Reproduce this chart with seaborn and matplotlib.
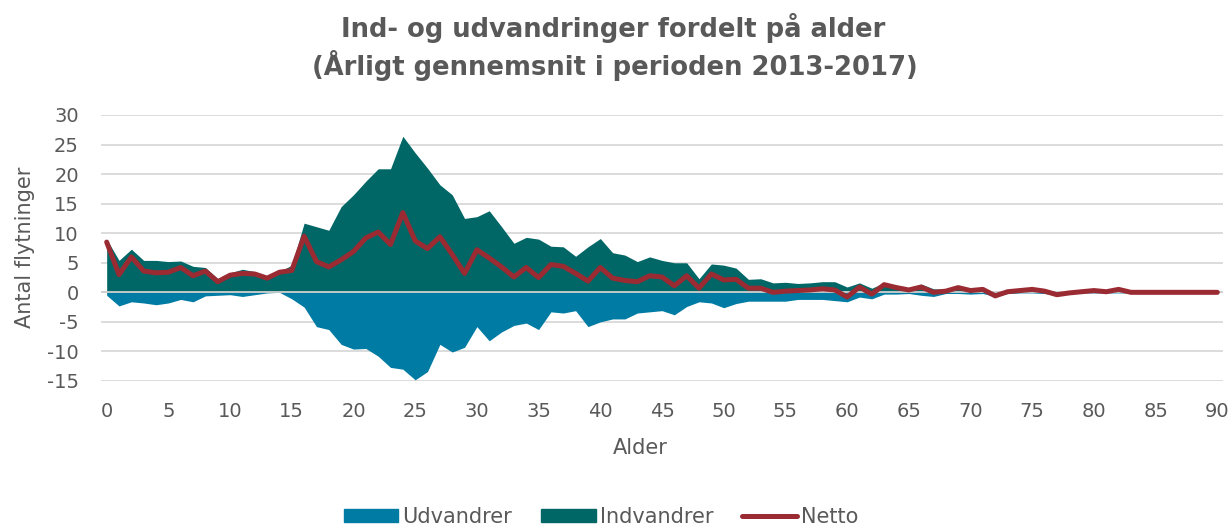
import numpy as np
import pandas as pd
import matplotlib
matplotlib.use("Agg")
import matplotlib.pyplot as plt
import matplotlib.patches as mpatches
from matplotlib.lines import Line2D
import seaborn as sns

# alder 0-90
ages = list(range(0, 91))

# indvandrere pr. alder (aarligt gennemsnit)
indvandrer = [9.0, 5.4, 7.3, 5.4, 5.4, 5.2, 5.3, 4.4, 4.2, 2.3,
              3.3, 3.9, 3.5, 2.6, 3.5, 4.6, 11.7, 11.1, 10.5, 14.5,
              16.5, 18.8, 20.9, 20.9, 26.4, 23.6, 21.0, 18.2, 16.5, 12.5,
              12.8, 13.8, 11.1, 8.3, 9.3, 9.0, 7.8, 7.7, 6.1, 7.7,
              9.1, 6.7, 6.3, 5.2, 6.0, 5.4, 5.0, 5.0, 2.3, 4.8,
              4.6, 4.1, 2.2, 2.3, 1.6, 1.7, 1.5, 1.6, 1.8, 1.8,
              0.9, 1.6, 0.7, 1.6, 1.1, 0.7, 1.4, 0.6, 0.5, 1.0,
              0.5, 0.6, 0.1, 0.3, 0.4, 0.6, 0.4, 0.1, 0.1, 0.2,
              0.4, 0.2, 0.6, 0.1, 0.0, 0.0, 0.0, 0.0, 0.0, 0.0, 0.0]

# udvandrere (negative)
udvandrer = [-0.5, -2.3, -1.6, -1.8, -2.1, -1.8, -1.2, -1.6, -0.6, -0.5,
             -0.4, -0.7, -0.4, -0.1, 0.0, -1.1, -2.5, -5.8, -6.3, -8.8,
             -9.6, -9.5, -10.8, -12.7, -13.0, -14.8, -13.4, -8.8, -10.1, -9.3,
             -5.8, -8.2, -6.7, -5.6, -5.2, -6.3, -3.3, -3.5, -3.1, -5.8,
             -5.0, -4.5, -4.5, -3.5, -3.3, -3.1, -3.8, -2.4, -1.6, -1.8,
             -2.6, -1.9, -1.5, -1.5, -1.5, -1.5, -1.2, -1.2, -1.2, -1.4,
             -1.6, -0.8, -1.1, -0.3, -0.3, -0.2, -0.5, -0.7, -0.2, -0.2,
             -0.3, -0.2, -0.7, -0.2, -0.1, -0.1, -0.2, -0.5, -0.2, -0.1,
             -0.1, -0.1, -0.1, -0.1, 0.0, 0.0, 0.0, 0.0, 0.0, 0.0, 0.0]

netto = [8.5, 3.0, 6.0, 3.6, 3.3, 3.4, 4.2, 2.8, 3.6, 1.8,
         2.9, 3.2, 3.1, 2.4, 3.4, 3.7, 9.5, 5.2, 4.3, 5.5,
         6.9, 9.2, 10.2, 8.1, 13.5, 8.7, 7.4, 9.4, 6.4, 3.2,
         7.2, 5.8, 4.3, 2.6, 4.2, 2.5, 4.7, 4.4, 3.2, 1.9,
         4.2, 2.4, 2.0, 1.8, 2.8, 2.6, 1.1, 2.8, 0.7, 3.1,
         2.1, 2.2, 0.7, 0.7, 0.0, 0.2, 0.3, 0.4, 0.6, 0.4,
         -0.8, 0.9, -0.3, 1.3, 0.8, 0.4, 0.9, 0.0, 0.2, 0.8,
         0.3, 0.5, -0.6, 0.1, 0.3, 0.5, 0.2, -0.4, -0.1, 0.1,
         0.3, 0.1, 0.5, 0.0, 0.0, 0.0, 0.0, 0.0, 0.0, 0.0, 0.0]

xticks = list(range(0, 91, 5))
yticks = list(range(-15, 31, 5))

df = pd.DataFrame({'Alder': ages, 'Indvandrer': indvandrer,
                   'Udvandrer': udvandrer, 'Netto': netto})

c_ud = '#007BA3'
c_ind = '#006666'
c_net = '#9B2B33'
c_txt = '#595959'

sns.set_theme(style='white')
plt.rcParams['font.family'] = ['DejaVu Sans']
plt.rcParams['axes.unicode_minus'] = False

fig = plt.figure(figsize=(12.32, 5.28), dpi=100)
ax = fig.add_axes([101/1232, 1 - 381/528, 1122/1232, 266/528])

ax.fill_between(df['Alder'], 0, df['Indvandrer'], color=c_ind, linewidth=0, zorder=2)
ax.fill_between(df['Alder'], 0, df['Udvandrer'], color=c_ud, linewidth=0, zorder=2)
ax.axhline(0, color='#d0d0d0', linewidth=1.3, zorder=3)
sns.lineplot(data=df, x='Alder', y='Netto', color=c_net, linewidth=3.6,
             ax=ax, zorder=4, legend=False)

ax.set_xlim(-0.46, 90.46)
ax.set_ylim(-15, 30)
ax.set_xticks(xticks)
ax.set_yticks(yticks)
ax.yaxis.grid(True, color='#d9d9d9', linewidth=1.3, zorder=0)
ax.set_axisbelow(True)
for s in ax.spines.values():
    s.set_visible(False)
ax.tick_params(axis='both', length=0, labelsize=14, labelcolor=c_txt)
ax.tick_params(axis='x', pad=15)
ax.tick_params(axis='y', pad=16)
ax.set_xlabel('')
ax.set_ylabel('')

fig.text(640/1232, 1 - 448/528, 'Alder', ha='center', va='center',
         fontsize=15, color=c_txt)
fig.text(25/1232, 1 - 247/528, 'Antal flytninger', ha='center', va='center',
         rotation=90, fontsize=15, color=c_txt)

fig.text(0.498, 1 - 37/528, 'Ind- og udvandringer fordelt på alder',
         ha='center', va='baseline', fontsize=18.6, fontweight='bold', color=c_txt)
fig.text(0.499, 1 - 75/528, '(Årligt gennemsnit i perioden 2013-2017)',
         ha='center', va='baseline', fontsize=18.6, fontweight='bold', color=c_txt)

handles = [mpatches.Patch(color=c_ud, label='Udvandrer'),
           mpatches.Patch(color=c_ind, label='Indvandrer'),
           Line2D([0], [0], color=c_net, linewidth=3.6, label='Netto')]
fig.legend(handles=handles, loc='center', bbox_to_anchor=(0.488, 1 - 517/528),
           ncol=3, frameon=False, fontsize=15, handlelength=2.6,
           handleheight=0.6, handletextpad=0.2, columnspacing=1.4,
           labelcolor=c_txt)

fig.savefig('out.png', dpi=100)
